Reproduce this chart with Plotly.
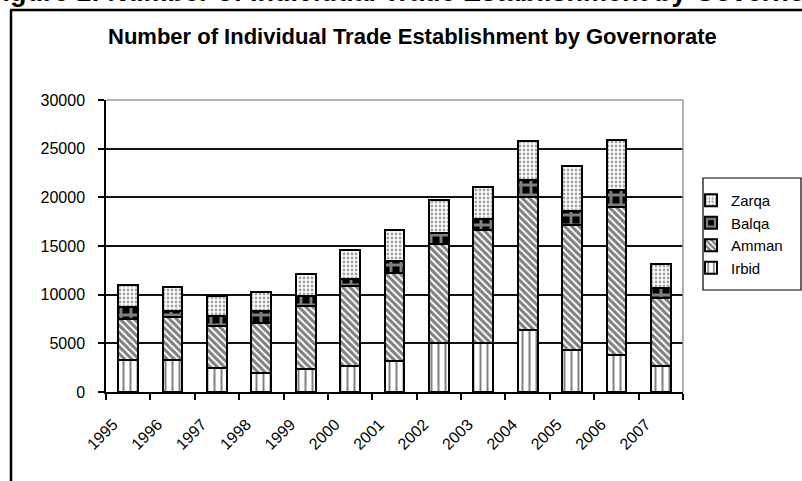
import plotly.graph_objects as go

# Individual trade establishments per governorate, 1995-2007
years = ["1995", "1996", "1997", "1998", "1999", "2000", "2001",
         "2002", "2003", "2004", "2005", "2006", "2007"]
irbid = [3240, 3240, 2480, 1970, 2360, 2710, 3150, 5040, 5040, 6410, 4290, 3840, 2710]
amman = [4310, 4420, 4310, 5100, 6440, 8220, 9080, 10170, 11590, 13650, 12860, 15160, 6960]
balqa = [1140, 620, 1030, 1210, 1030, 720, 1270, 1130, 1170, 1680, 1440, 1710, 1030]
zarqa = [2310, 2520, 2070, 1970, 2260, 2980, 3120, 3430, 3290, 4010, 4630, 5210, 2500]

y_ticks = [0, 5000, 10000, 15000, 20000, 25000, 30000]

W, H = 802, 481
ML, MR, MT, MB = 106, 119, 100, 89
PW, PH = W - ML - MR, H - MT - MB


def px(x):
    return (x - ML) / PW


def py(y):
    return (H - MB - y) / PH


FONT = "Arial, Liberation Sans, sans-serif"

series = [
    ("Irbid", irbid, dict(shape="|", fgcolor="black", bgcolor="white", size=7, solidity=0.28)),
    ("Amman", amman, dict(shape="\\", fgcolor="black", bgcolor="white", size=5, solidity=0.6)),
    ("Balqa", balqa, dict(shape="+", fgcolor="white", bgcolor="black", size=10, solidity=0.5)),
    ("Zarqa", zarqa, dict(shape=".", fgcolor="#444444", bgcolor="white", size=4, solidity=0.38)),
]

fig = go.Figure()
for name, vals, pat in series:
    fig.add_trace(go.Bar(
        x=years, y=vals, name=name,
        marker=dict(color="white", pattern=pat,
                    line=dict(color="black", width=2)),
    ))

fig.update_layout(
    width=W, height=H,
    margin=dict(l=ML, r=MR, t=MT, b=MB, pad=0),
    paper_bgcolor="white", plot_bgcolor="white",
    barmode="stack", bargap=0.556,
    font=dict(family=FONT, color="black", size=16),
    showlegend=True,
    legend=dict(
        x=px(691), y=py(184), xanchor="left", yanchor="top",
        traceorder="reversed", bgcolor="rgba(0,0,0,0)", borderwidth=0,
        font=dict(family=FONT, size=15, color="black"),
        itemclick=False,
    ),
    xaxis=dict(
        type="category", tickangle=-45, ticks="outside", tickson="boundaries",
        ticklen=6, tickcolor="black", tickwidth=1.5,
        showline=True, linecolor="black", linewidth=1.5,
        showgrid=False, zeroline=False,
        ticklabelstandoff=15, ticklabelshift=-15,
        tickfont=dict(family=FONT, size=16, color="black"),
    ),
    yaxis=dict(
        range=[0, 30000], tickvals=y_ticks, tickformat="d",
        ticks="outside", ticklen=6, tickcolor="black", tickwidth=1.5,
        showline=True, linecolor="black", linewidth=1.5,
        showgrid=True, gridcolor="#111111", gridwidth=1.5, zeroline=False,
        ticklabelstandoff=10,
        tickfont=dict(family=FONT, size=16, color="black"),
    ),
    shapes=[
        # plot-area frame, top and right
        dict(type="line", xref="paper", yref="paper", x0=0, x1=1, y0=1, y1=1,
             line=dict(color="#9a9a9a", width=1.5), layer="above"),
        dict(type="line", xref="paper", yref="paper", x0=1, x1=1, y0=0, y1=1,
             line=dict(color="#9a9a9a", width=1.5), layer="above"),
        # legend box
        dict(type="rect", xref="paper", yref="paper",
             x0=px(703), x1=px(801), y0=py(290), y1=py(178),
             line=dict(color="black", width=1.2), layer="above"),
        # outer chart frame
        dict(type="line", xref="paper", yref="paper", x0=px(11), x1=px(11),
             y0=py(10), y1=py(H + 5), line=dict(color="black", width=2.5)),
        dict(type="line", xref="paper", yref="paper", x0=px(10), x1=px(W + 5),
             y0=py(10), y1=py(10), line=dict(color="black", width=2.5)),
    ],
    annotations=[
        dict(text="<b>Number of Individual Trade Establishment by Governorate</b>",
             xref="paper", yref="paper", x=px(412), y=py(36),
             xanchor="center", yanchor="middle", showarrow=False,
             font=dict(family=FONT, size=22, color="black")),
        dict(text="<b>Figure 1: Number of Individual Trade Establishment by Governorate</b>",
             xref="paper", yref="paper", x=px(-16), y=py(-8),
             xanchor="left", yanchor="middle", showarrow=False,
             font=dict(family=FONT, size=27, color="black")),
    ],
)

fig.write_html("out.html")
